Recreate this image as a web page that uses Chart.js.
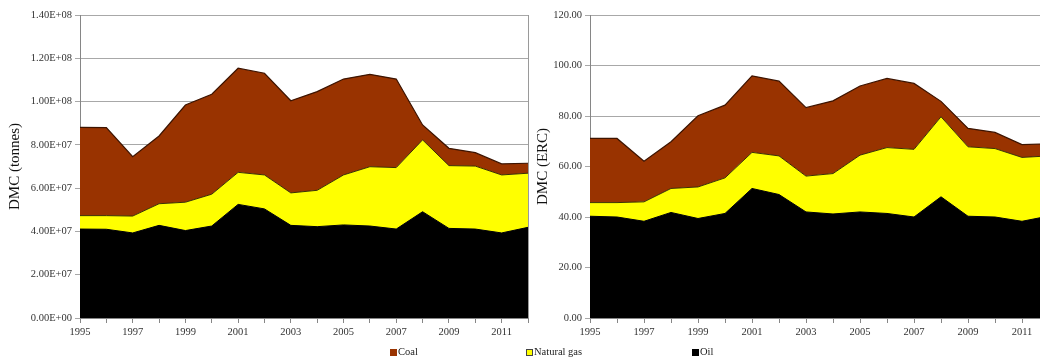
<!DOCTYPE html>
<html>
<head>
<meta charset="utf-8">
<script src="https://cdn.jsdelivr.net/npm/chart.js@4.4.0/dist/chart.umd.min.js"></script>
<style>
  html, body { margin: 0; padding: 0; background: #fff; width: 1040px; height: 358px; overflow: hidden; }
  body { position: relative; }
  .panel { position: absolute; top: 0; height: 358px; }
  #legend { position: absolute; left: 0; top: 345px; width: 1040px; height: 14px;
            font: 10.5px "Liberation Serif", "Times New Roman", serif; color: #222; }
  .item { position: absolute; top: 0; display: flex; align-items: center; white-space: nowrap; line-height: 14px; }
  .sw { width: 7px; height: 7px; margin-right: 1px; box-sizing: border-box; }
</style>
</head>
<body>
<div class="panel" style="left:0;width:533px"><canvas id="tonnes" width="533" height="358"></canvas></div>
<div class="panel" style="left:530px;width:530px"><canvas id="erc" width="530" height="358"></canvas></div>
<div id="legend">
  <div class="item" style="left:390px"><span class="sw" style="background:#993300"></span>Coal</div>
  <div class="item" style="left:526px"><span class="sw" style="background:#ffff00;border:1.5px solid #444"></span>Natural gas</div>
  <div class="item" style="left:692px"><span class="sw" style="background:#000"></span>Oil</div>
</div>
<script>
// Years on the horizontal axis
const years = ['1995','1996','1997','1998','1999','2000','2001','2002','2003',
               '2004','2005','2006','2007','2008','2009','2010','2011','2012'];

// Domestic material consumption in tonnes, per fuel
const oilTonnes  = [41.1e6, 41.0e6, 39.3e6, 42.8e6, 40.4e6, 42.5e6, 52.5e6, 50.4e6, 42.8e6,
                    42.2e6, 43.0e6, 42.5e6, 41.1e6, 49.1e6, 41.4e6, 41.1e6, 39.3e6, 41.9e6];
const gasTonnes  = [6.2e6, 6.3e6, 7.8e6, 10.0e6, 13.1e6, 14.7e6, 14.8e6, 15.7e6, 15.0e6,
                    16.8e6, 23.1e6, 27.4e6, 28.4e6, 33.2e6, 29.0e6, 29.1e6, 26.8e6, 25.0e6];
const coalTonnes = [40.8e6, 40.7e6, 27.4e6, 31.3e6, 44.9e6, 46.2e6, 48.1e6, 47.0e6, 42.6e6,
                    45.6e6, 44.3e6, 42.7e6, 40.9e6, 6.9e6, 8.0e6, 6.2e6, 5.1e6, 4.6e6];

// Domestic material consumption in ERC, per fuel
const oilErc  = [40.3, 40.0, 38.3, 41.8, 39.4, 41.4, 51.3, 48.9, 42.0,
                 41.2, 42.0, 41.4, 40.0, 48.0, 40.3, 40.0, 38.3, 40.4];
const gasErc  = [5.4, 5.7, 7.7, 9.5, 12.5, 14.1, 14.3, 15.3, 14.2,
                 16.0, 22.5, 26.1, 26.8, 31.7, 27.5, 27.1, 25.3, 23.8];
const coalErc = [25.4, 25.4, 16.1, 18.5, 28.2, 28.8, 30.3, 29.6, 27.1,
                 28.8, 27.4, 27.4, 26.1, 6.1, 7.3, 6.4, 5.1, 4.8];

const SERIF = '"Liberation Serif", "Times New Roman", serif';

function sci(v) {
  if (v === 0) return '0.00E+00';
  const e = Math.floor(Math.log10(v) + 1e-9);
  const m = v / Math.pow(10, e);
  return m.toFixed(2) + 'E+' + String(e).padStart(2, '0');
}

// Thin frame line along the right side of the plot area
const plotFrame = {
  id: 'plotFrame',
  beforeDatasetsDraw(chart) {
    const { ctx, chartArea: a } = chart;
    ctx.save();
    ctx.strokeStyle = '#9a9a9a';
    ctx.lineWidth = 1;
    ctx.beginPath();
    ctx.moveTo(Math.round(a.right) + 0.5, a.top);
    ctx.lineTo(Math.round(a.right) + 0.5, a.bottom);
    ctx.stroke();
    ctx.restore();
  }
};

function makeChart(id, oil, gas, coal, yMax, yStep, fmt, title, axisWidth, padRight, titlePad) {
  return new Chart(document.getElementById(id), {
    type: 'line',
    data: {
      labels: years,
      datasets: [
        { label: 'Oil', data: oil, fill: 'origin', backgroundColor: '#000000',
          borderColor: '#000000', borderWidth: 1 },
        { label: 'Natural gas', data: gas, fill: '-1', backgroundColor: '#ffff00',
          borderColor: '#3a3000', borderWidth: 1 },
        { label: 'Coal', data: coal, fill: '-1', backgroundColor: '#993300',
          borderColor: '#3d1400', borderWidth: 1.2 }
      ]
    },
    options: {
      responsive: false,
      animation: false,
      events: [],
      elements: { point: { radius: 0 }, line: { tension: 0 } },
      layout: { padding: { top: 15, right: padRight, left: 0, bottom: 0 } },
      plugins: { legend: { display: false }, tooltip: { enabled: false } },
      scales: {
        x: {
          type: 'category',
          offset: false,
          grid: { drawOnChartArea: false, drawTicks: true, tickLength: 5, color: '#868686' },
          border: { color: '#868686' },
          ticks: {
            autoSkip: false, maxRotation: 0, minRotation: 0, padding: 3, color: '#333',
            font: { family: SERIF, size: 10.5 },
            callback: (v, i) => (i % 2 === 0 ? years[i] : '')
          },
          afterFit(s) { s.height = 40; }
        },
        y: {
          stacked: true,
          min: 0, max: yMax,
          ticks: { stepSize: yStep, padding: 3, color: '#333',
                   font: { family: SERIF, size: 10.5 }, callback: fmt },
          grid: { color: '#a8a8a8', tickLength: 5, drawTicks: true },
          border: { color: '#868686' },
          title: { display: true, text: title, color: '#111',
                   font: { family: SERIF, size: 15 }, padding: { top: titlePad, bottom: 0 } },
          afterFit(s) { s.width = axisWidth; }
        }
      }
    },
    plugins: [plotFrame]
  });
}

makeChart('tonnes', oilTonnes, gasTonnes, coalTonnes, 1.4e8, 2e7, v => sci(v),
          'DMC (tonnes)', 80, 5, 6);
makeChart('erc', oilErc, gasErc, coalErc, 120, 20, v => Number(v).toFixed(2),
          'DMC (ERC)', 60, 11, 4);
</script>
</body>
</html>
